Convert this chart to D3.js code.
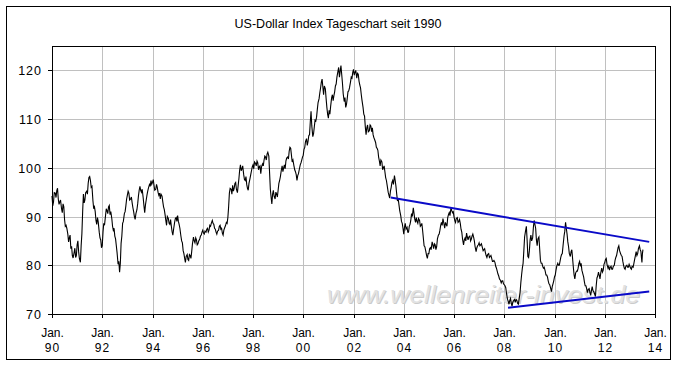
<!DOCTYPE html>
<html><head><meta charset="utf-8">
<script src="https://cdn.jsdelivr.net/npm/d3@7"></script>
<style>html,body{margin:0;padding:0;background:#fff}</style>
</head><body>
<svg id="c" width="677" height="365"></svg>
<script>
const title = "US-Dollar Index Tageschart seit 1990";
const watermark = "www.wellenreiter-invest.de";

const dates = [
1990.00,1990.03,1990.06,1990.09,1990.13,1990.16,1990.19,1990.22,1990.25,1990.28,1990.31,1990.34,1990.38,1990.41,1990.44,1990.47,1990.50,1990.53,1990.56,1990.59,1990.63,1990.66,1990.69,1990.72,1990.75,1990.78,1990.81,1990.84,1990.88,1990.91,1990.94,1990.97,
1991.00,1991.03,1991.06,1991.09,1991.13,1991.16,1991.19,1991.22,1991.25,1991.28,1991.31,1991.34,1991.38,1991.41,1991.44,1991.47,1991.50,1991.53,1991.56,1991.59,1991.63,1991.66,1991.69,1991.72,1991.75,1991.78,1991.81,1991.84,1991.88,1991.91,1991.94,1991.97,
1992.00,1992.03,1992.06,1992.09,1992.13,1992.16,1992.19,1992.22,1992.25,1992.28,1992.31,1992.34,1992.38,1992.41,1992.44,1992.47,1992.50,1992.53,1992.56,1992.59,1992.63,1992.66,1992.69,1992.72,1992.75,1992.78,1992.81,1992.84,1992.88,1992.91,1992.94,1992.97,
1993.00,1993.03,1993.06,1993.09,1993.13,1993.16,1993.19,1993.22,1993.25,1993.28,1993.31,1993.34,1993.38,1993.41,1993.44,1993.47,1993.50,1993.53,1993.56,1993.59,1993.63,1993.66,1993.69,1993.72,1993.75,1993.78,1993.81,1993.84,1993.88,1993.91,1993.94,1993.97,
1994.00,1994.03,1994.06,1994.09,1994.13,1994.16,1994.19,1994.22,1994.25,1994.28,1994.31,1994.34,1994.38,1994.41,1994.44,1994.47,1994.50,1994.53,1994.56,1994.59,1994.63,1994.66,1994.69,1994.72,1994.75,1994.78,1994.81,1994.84,1994.88,1994.91,1994.94,1994.97,
1995.00,1995.03,1995.06,1995.09,1995.13,1995.16,1995.19,1995.22,1995.25,1995.28,1995.31,1995.34,1995.38,1995.41,1995.44,1995.47,1995.50,1995.53,1995.56,1995.59,1995.63,1995.66,1995.69,1995.72,1995.75,1995.78,1995.81,1995.84,1995.88,1995.91,1995.94,1995.97,
1996.00,1996.03,1996.06,1996.09,1996.13,1996.16,1996.19,1996.22,1996.25,1996.28,1996.31,1996.34,1996.38,1996.41,1996.44,1996.47,1996.50,1996.53,1996.56,1996.59,1996.63,1996.66,1996.69,1996.72,1996.75,1996.78,1996.81,1996.84,1996.88,1996.91,1996.94,1996.97,
1997.00,1997.03,1997.06,1997.09,1997.13,1997.16,1997.19,1997.22,1997.25,1997.28,1997.31,1997.34,1997.38,1997.41,1997.44,1997.47,1997.50,1997.53,1997.56,1997.59,1997.63,1997.66,1997.69,1997.72,1997.75,1997.78,1997.81,1997.84,1997.88,1997.91,1997.94,1997.97,
1998.00,1998.03,1998.06,1998.09,1998.13,1998.16,1998.19,1998.22,1998.25,1998.28,1998.31,1998.34,1998.38,1998.41,1998.44,1998.47,1998.50,1998.53,1998.56,1998.59,1998.63,1998.66,1998.69,1998.72,1998.75,1998.78,1998.81,1998.84,1998.88,1998.91,1998.94,1998.97,
1999.00,1999.03,1999.06,1999.09,1999.13,1999.16,1999.19,1999.22,1999.25,1999.28,1999.31,1999.34,1999.38,1999.41,1999.44,1999.47,1999.50,1999.53,1999.56,1999.59,1999.63,1999.66,1999.69,1999.72,1999.75,1999.78,1999.81,1999.84,1999.88,1999.91,1999.94,1999.97,
2000.00,2000.03,2000.06,2000.09,2000.13,2000.16,2000.19,2000.22,2000.25,2000.28,2000.31,2000.34,2000.38,2000.41,2000.44,2000.47,2000.50,2000.53,2000.56,2000.59,2000.63,2000.66,2000.69,2000.72,2000.75,2000.78,2000.81,2000.84,2000.88,2000.91,2000.94,2000.97,
2001.00,2001.03,2001.06,2001.09,2001.13,2001.16,2001.19,2001.22,2001.25,2001.28,2001.31,2001.34,2001.38,2001.41,2001.44,2001.47,2001.50,2001.53,2001.56,2001.59,2001.63,2001.66,2001.69,2001.72,2001.75,2001.78,2001.81,2001.84,2001.88,2001.91,2001.94,2001.97,
2002.00,2002.03,2002.06,2002.09,2002.13,2002.16,2002.19,2002.22,2002.25,2002.28,2002.31,2002.34,2002.38,2002.41,2002.44,2002.47,2002.50,2002.53,2002.56,2002.59,2002.63,2002.66,2002.69,2002.72,2002.75,2002.78,2002.81,2002.84,2002.88,2002.91,2002.94,2002.97,
2003.00,2003.03,2003.06,2003.09,2003.13,2003.16,2003.19,2003.22,2003.25,2003.28,2003.31,2003.34,2003.38,2003.41,2003.44,2003.47,2003.50,2003.53,2003.56,2003.59,2003.63,2003.66,2003.69,2003.72,2003.75,2003.78,2003.81,2003.84,2003.88,2003.91,2003.94,2003.97,
2004.00,2004.03,2004.06,2004.09,2004.13,2004.16,2004.19,2004.22,2004.25,2004.28,2004.31,2004.34,2004.38,2004.41,2004.44,2004.47,2004.50,2004.53,2004.56,2004.59,2004.63,2004.66,2004.69,2004.72,2004.75,2004.78,2004.81,2004.84,2004.88,2004.91,2004.94,2004.97,
2005.00,2005.03,2005.06,2005.09,2005.13,2005.16,2005.19,2005.22,2005.25,2005.28,2005.31,2005.34,2005.38,2005.41,2005.44,2005.47,2005.50,2005.53,2005.56,2005.59,2005.63,2005.66,2005.69,2005.72,2005.75,2005.78,2005.81,2005.84,2005.88,2005.91,2005.94,2005.97,
2006.00,2006.03,2006.06,2006.09,2006.13,2006.16,2006.19,2006.22,2006.25,2006.28,2006.31,2006.34,2006.38,2006.41,2006.44,2006.47,2006.50,2006.53,2006.56,2006.59,2006.63,2006.66,2006.69,2006.72,2006.75,2006.78,2006.81,2006.84,2006.88,2006.91,2006.94,2006.97,
2007.00,2007.03,2007.06,2007.09,2007.13,2007.16,2007.19,2007.22,2007.25,2007.28,2007.31,2007.34,2007.38,2007.41,2007.44,2007.47,2007.50,2007.53,2007.56,2007.59,2007.63,2007.66,2007.69,2007.72,2007.75,2007.78,2007.81,2007.84,2007.88,2007.91,2007.94,2007.97,
2008.00,2008.03,2008.06,2008.09,2008.13,2008.16,2008.19,2008.22,2008.25,2008.28,2008.31,2008.34,2008.38,2008.41,2008.44,2008.47,2008.50,2008.53,2008.56,2008.59,2008.63,2008.66,2008.69,2008.72,2008.75,2008.78,2008.81,2008.84,2008.88,2008.91,2008.94,2008.97,
2009.00,2009.03,2009.06,2009.09,2009.13,2009.16,2009.19,2009.22,2009.25,2009.28,2009.31,2009.34,2009.38,2009.41,2009.44,2009.47,2009.50,2009.53,2009.56,2009.59,2009.63,2009.66,2009.69,2009.72,2009.75,2009.78,2009.81,2009.84,2009.88,2009.91,2009.94,2009.97,
2010.00,2010.03,2010.06,2010.09,2010.13,2010.16,2010.19,2010.22,2010.25,2010.28,2010.31,2010.34,2010.38,2010.41,2010.44,2010.47,2010.50,2010.53,2010.56,2010.59,2010.63,2010.66,2010.69,2010.72,2010.75,2010.78,2010.81,2010.84,2010.88,2010.91,2010.94,2010.97,
2011.00,2011.03,2011.06,2011.09,2011.13,2011.16,2011.19,2011.22,2011.25,2011.28,2011.31,2011.34,2011.38,2011.41,2011.44,2011.47,2011.50,2011.53,2011.56,2011.59,2011.63,2011.66,2011.69,2011.72,2011.75,2011.78,2011.81,2011.84,2011.88,2011.91,2011.94,2011.97,
2012.00,2012.03,2012.06,2012.09,2012.13,2012.16,2012.19,2012.22,2012.25,2012.28,2012.31,2012.34,2012.38,2012.41,2012.44,2012.47,2012.50,2012.53,2012.56,2012.59,2012.63,2012.66,2012.69,2012.72,2012.75,2012.78,2012.81,2012.84,2012.88,2012.91,2012.94,2012.97,
2013.00,2013.03,2013.06,2013.09,2013.13,2013.16,2013.19,2013.22,2013.25,2013.28,2013.31,2013.34,2013.38,2013.41,2013.44,2013.46,2013.48,2013.50,2013.52
];

const values = [
94.2,92.2,93.0,94.9,94.8,93.9,95.3,95.8,93.6,92.5,93.0,93.4,91.6,90.8,92.6,92.0,89.4,88.0,88.2,87.6,86.4,84.8,85.6,86.2,83.4,83.9,82.0,81.5,82.6,83.5,81.6,82.0,
84.2,85.0,82.8,81.4,80.6,84.0,86.5,91.0,94.6,92.8,93.4,94.9,95.2,94.6,96.8,98.0,98.2,97.4,96.0,96.2,93.2,91.6,92.0,91.0,89.2,88.4,89.8,88.9,86.8,85.6,85.2,83.6,
84.0,86.8,88.6,88.2,90.2,91.6,91.2,90.6,92.0,92.3,90.4,91.0,89.6,88.0,87.2,87.6,86.0,85.4,84.0,82.6,80.2,80.8,78.6,80.4,84.5,86.0,88.6,89.0,90.6,91.0,92.2,93.6,
94.4,95.2,94.8,93.4,93.6,94.0,92.8,91.8,91.0,90.0,89.4,90.6,91.4,92.6,94.2,95.4,96.2,95.4,95.0,95.6,93.8,92.2,90.8,92.4,93.4,94.4,95.2,95.9,96.6,96.2,97.4,96.6,
97.0,97.6,96.4,95.4,95.6,96.6,96.0,95.0,94.4,94.8,93.6,94.6,94.2,93.0,92.0,91.4,90.4,89.2,88.2,90.0,89.6,88.6,88.4,89.4,88.0,86.9,86.2,87.4,88.8,89.6,89.8,89.0,
90.2,89.0,88.4,87.6,86.0,85.0,84.6,83.0,82.4,81.4,80.6,81.8,82.2,81.2,81.0,82.2,82.0,81.4,82.8,84.4,85.8,85.0,84.6,85.6,85.2,84.2,84.4,85.0,85.4,86.0,86.2,86.8,
87.2,86.6,86.4,87.0,86.8,87.4,87.6,86.8,87.2,88.2,88.0,88.6,89.2,88.6,88.4,87.6,87.4,86.8,86.4,87.0,87.2,88.0,88.2,87.4,87.6,86.6,86.2,87.2,87.8,88.2,88.8,88.6,
89.8,92.0,94.8,95.8,95.6,94.6,96.4,95.2,95.8,96.8,97.0,95.6,94.9,96.4,97.8,99.6,100.6,99.4,99.8,100.4,98.6,97.6,97.4,98.2,96.6,95.8,95.4,96.8,97.8,98.6,99.4,100.2,
100.6,99.8,101.2,101.0,100.4,101.4,101.0,99.6,100.2,100.4,98.8,100.2,100.8,100.4,101.6,102.4,102.2,101.6,102.8,103.2,102.4,99.0,95.6,94.0,92.6,94.6,95.4,94.2,93.6,95.0,94.6,94.0,
95.4,96.8,97.4,98.2,99.6,100.4,99.2,100.0,100.6,99.8,101.4,102.0,102.2,101.8,103.4,104.2,104.0,102.6,101.2,101.6,100.4,99.6,99.2,98.6,97.4,98.4,98.8,99.6,100.6,101.0,101.6,102.2,
102.6,103.8,104.2,105.4,106.0,104.6,105.4,106.6,106.8,109.4,111.6,108.6,106.4,107.0,108.4,109.8,109.6,110.4,112.0,113.4,114.2,115.4,116.4,117.6,118.2,116.6,115.0,116.8,116.2,114.2,112.4,111.0,
110.2,111.8,111.0,112.6,114.4,115.0,113.8,114.8,115.6,116.8,117.2,118.6,119.8,120.6,118.6,119.8,121.0,119.2,117.4,115.2,113.6,114.4,112.4,113.0,114.2,115.6,115.8,116.4,117.6,118.6,118.4,119.6,
120.2,119.0,119.6,120.0,118.4,119.4,119.2,117.8,117.0,116.4,115.0,113.8,112.4,111.0,110.6,108.4,106.8,108.2,108.8,107.4,107.6,108.8,108.6,107.4,108.2,106.8,106.2,105.8,105.2,104.2,104.0,103.6,
102.2,101.4,100.4,101.6,101.2,99.6,100.0,100.4,99.2,98.0,97.4,96.4,95.0,94.4,93.8,95.2,96.0,97.0,97.4,96.6,98.4,97.4,96.2,94.6,93.2,93.6,92.4,91.2,90.2,89.0,88.6,87.6,
86.4,87.8,88.6,87.4,87.8,86.8,86.8,88.0,88.4,89.2,90.6,90.0,91.8,90.6,89.4,88.8,89.8,89.0,88.6,89.6,89.2,88.0,88.2,88.6,87.2,85.6,84.0,83.8,82.8,82.0,81.4,82.4,
82.4,83.4,83.6,83.2,84.8,84.2,83.4,84.4,84.2,83.2,83.8,85.4,86.2,86.4,87.2,88.2,88.8,88.2,89.6,88.8,87.6,88.8,88.4,88.0,89.8,90.4,90.8,90.2,91.8,91.2,90.8,91.0,
90.0,89.2,88.8,89.6,89.8,88.8,89.0,89.4,88.6,87.4,86.8,85.4,84.2,85.2,85.6,85.0,86.6,85.8,85.2,85.8,86.0,85.0,85.4,86.0,86.4,85.8,85.0,83.8,82.8,83.6,84.0,84.2,
84.6,84.0,84.2,84.4,83.6,83.0,83.2,83.4,82.6,82.0,81.6,82.2,82.4,81.6,81.8,82.0,81.4,80.8,80.8,81.0,80.6,79.8,79.4,78.8,78.2,77.8,77.2,77.0,76.4,76.8,76.8,76.2,
76.0,75.8,75.4,74.2,73.0,72.6,72.0,72.8,73.2,72.2,71.6,72.4,72.8,73.0,72.4,73.0,72.8,72.2,72.0,73.0,74.4,76.4,78.0,79.4,80.4,83.0,85.8,86.8,88.0,85.2,81.8,81.6,
83.0,85.2,86.2,85.0,85.6,87.8,89.2,88.4,87.6,85.2,84.0,85.4,85.8,83.4,81.0,80.4,80.4,79.8,79.4,79.6,78.8,78.0,78.0,77.6,76.8,76.2,76.0,75.4,74.6,75.6,76.2,76.8,
77.6,78.0,79.0,79.8,80.4,80.0,80.0,80.8,81.6,82.2,82.4,84.0,86.0,87.0,88.8,87.6,86.4,84.8,83.8,82.4,81.8,82.8,83.2,81.4,79.6,78.0,77.2,78.4,78.8,78.8,79.4,80.4,
80.8,79.8,80.4,79.0,78.2,77.6,76.6,75.8,75.8,75.2,74.4,75.0,75.2,74.4,73.8,74.8,75.6,74.8,74.6,74.2,73.6,75.8,77.4,77.8,78.6,78.0,77.2,78.4,79.4,78.6,79.0,80.2,
80.6,81.2,81.4,80.2,79.4,79.8,79.0,79.6,79.8,79.2,79.2,79.8,80.0,81.0,81.6,82.0,82.8,83.6,84.0,83.0,82.4,82.0,81.8,80.8,80.0,79.4,79.2,79.8,80.0,79.6,79.6,80.2,
79.8,79.4,79.2,79.8,79.6,80.4,81.2,82.0,82.8,82.0,82.4,83.4,84.0,83.2,82.8,81.6,80.6,82.4,83.2
];

const upperDates = [2003.48, 2013.77];
const upperValues = [93.9, 84.8];
const lowerDates = [2008.15, 2013.77];
const lowerValues = [71.3, 74.6];

const xTicks = [1990,1992,1994,1996,1998,2000,2002,2004,2006,2008,2010,2012,2014];
const xTickLabels = ["90","92","94","96","98","00","02","04","06","08","10","12","14"];
const yTicks = [70,80,90,100,110,120];

const svg = d3.select("#c");
const L = 52, R = 655, T = 46, B = 314;
const x = d3.scaleLinear().domain([1990, 2014]).range([L, R]);
const y = d3.scaleLinear().domain([70, 125]).range([B, T]);
const xr = x.copy().interpolate(d3.interpolateRound);
const yr = y.copy().interpolate(d3.interpolateRound);
const font = "'Liberation Sans', Arial, sans-serif";

svg.append("rect").attr("x",0).attr("y",0).attr("width",677).attr("height",365).attr("fill","#fff");
svg.append("rect").attr("x",6.5).attr("y",6.5).attr("width",664).attr("height",353)
  .attr("fill","none").attr("stroke","#000").attr("stroke-width",1);

// title
svg.append("text").attr("x",338).attr("y",28).attr("text-anchor","middle")
  .attr("font-family",font).attr("font-size","12.5px").attr("fill","#000").text(title);

// grid
const grid = svg.append("g").attr("stroke","#c0c0c0").attr("stroke-width",1);
xTicks.slice(1,-1).forEach(t => grid.append("line")
  .attr("x1",xr(t)+0.5).attr("x2",xr(t)+0.5).attr("y1",T).attr("y2",B));
yTicks.slice(1).forEach(v => grid.append("line")
  .attr("x1",L).attr("x2",R).attr("y1",yr(v)+0.5).attr("y2",yr(v)+0.5));

// watermark
const wm = svg.append("g").attr("font-family",font).attr("font-style","italic").attr("font-size","24px");
wm.append("text").attr("x",328).attr("y",304).attr("textLength",313).attr("lengthAdjust","spacingAndGlyphs")
  .attr("fill","#cbcbcb").text(watermark);
wm.append("text").attr("x",327).attr("y",303).attr("textLength",313).attr("lengthAdjust","spacingAndGlyphs")
  .attr("fill","#e2e2e2").text(watermark);

// data line
const n = Math.min(dates.length, values.length);
const idx = d3.range(n);
svg.append("path").datum(idx)
  .attr("fill","none").attr("stroke","#000").attr("stroke-width",1.1).attr("stroke-linejoin","miter")
  .attr("d", d3.line().x(i => x(dates[i])).y(i => y(values[i])));

// trend lines
const tl = d3.line().x(d => x(d[0])).y(d => y(d[1]));
svg.append("path").datum(upperDates.map((d,i)=>[d,upperValues[i]]))
  .attr("fill","none").attr("stroke","#0a0ac8").attr("stroke-width",2).attr("d",tl);
svg.append("path").datum(lowerDates.map((d,i)=>[d,lowerValues[i]]))
  .attr("fill","none").attr("stroke","#0a0ac8").attr("stroke-width",2).attr("d",tl);

// frame of plot
svg.append("rect").attr("x",L+0.5).attr("y",T+0.5).attr("width",R-L).attr("height",B-T)
  .attr("fill","none").attr("stroke","#000").attr("stroke-width",1);

// axes
const yAxis = d3.axisLeft(yr).tickValues(yTicks).tickSize(4).tickSizeOuter(0).tickPadding(6);
const gy = svg.append("g").attr("transform",`translate(${L},0)`).call(yAxis);
gy.select(".domain").remove();
gy.selectAll("line").attr("stroke","#000");
gy.selectAll("text").attr("font-family",font).attr("font-size","12.5px").attr("fill","#000")
  .attr("letter-spacing","1px").attr("dy","0.36em");

const xAxis = d3.axisBottom(xr).tickValues(xTicks).tickSize(4).tickSizeOuter(0).tickFormat(() => "");
const gx = svg.append("g").attr("transform",`translate(0,${B})`).call(xAxis);
gx.select(".domain").remove();
gx.selectAll("line").attr("stroke","#000");
gx.selectAll(".tick").each(function(d,i){
  const t = d3.select(this).select("text").text(null)
    .attr("font-family",font).attr("font-size","12px").attr("fill","#000").attr("dy",null).attr("y",0);
  t.append("tspan").attr("x",0).attr("y",23).text("Jan.");
  t.append("tspan").attr("x",0).attr("y",38).attr("letter-spacing","1px").text(xTickLabels[i]);
});
</script>
</body></html>
